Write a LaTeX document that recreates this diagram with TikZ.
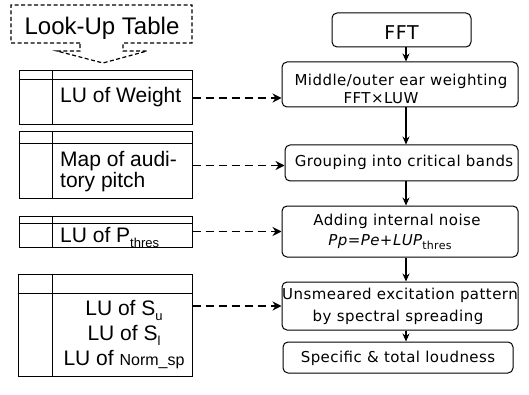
\documentclass[tikz,border=0pt]{standalone}
\usepackage{fontspec}
\setmainfont{Liberation Sans}
\newfontfamily\rfont[LetterSpace=3]{DejaVu Sans}
\usetikzlibrary{arrows.meta,calc}
\begin{document}
\begin{tikzpicture}[x=1pt,y=-1pt,
  tbl/.style={draw,line width=1pt,inner sep=0pt},
  tline/.style={line width=1pt},
  rbox/.style={draw,line width=1pt,rounded corners=5pt,inner sep=0pt},
  ltext/.style={inner sep=0pt,font=\fontsize{21}{21}\selectfont},
  rtext/.style={inner sep=0pt,font=\rfont\fontsize{15}{15}\selectfont},
  varrow/.style={line width=1.1pt,-{Stealth[length=8pt,width=7pt]}},
  darrow/.style={line width=1.5pt,dash pattern=on 8pt off 5pt,-{Stealth[length=9pt,width=9pt]}},
  dashbox/.style={line width=1.2pt,dash pattern=on 4pt off 2.5pt}]
\useasboundingbox (0,0) rectangle (529,395);
\fill[white] (0,0) rectangle (529,395);

% Look-Up Table callout
\draw[dashbox] (80,43) -- (11,43) -- (11,5) -- (192,5) -- (192,43) -- (123,43)
  -- (123,51) -- (147,51) -- (103,63) -- (57,51) -- (80,51) -- cycle;
\node[inner sep=0pt,anchor=base,font=\fontsize{24}{24}\selectfont] (lut) at (102,35) {Look-Up Table};

% Left tables
\node[tbl,minimum width=173pt,minimum height=54pt] (t1) at (105.5,98) {};
\draw[tline] ([xshift=34pt]t1.north west) -- ([xshift=34pt]t1.south west);
\draw[tline] ([yshift=-9pt]t1.north west) -- ([yshift=-9pt]t1.north east);
\node[ltext,anchor=base west] (w1) at (60,103) {LU of Weight};

\node[tbl,minimum width=173pt,minimum height=67pt] (t2) at (105.5,165.5) {};
\draw[tline] ([xshift=34pt]t2.north west) -- ([xshift=34pt]t2.south west);
\draw[tline] ([yshift=-12pt]t2.north west) -- ([yshift=-12pt]t2.north east);
\node[ltext,anchor=base west] (w2a) at (60,167) {Map of audi-};
\node[ltext,anchor=base west] (w2b) at (60,188) {tory pitch};

\node[tbl,minimum width=173pt,minimum height=31pt] (t3) at (105.5,231.5) {};
\draw[tline] ([xshift=34pt]t3.north west) -- ([xshift=34pt]t3.south west);
\draw[tline] ([yshift=-8pt]t3.north west) -- ([yshift=-8pt]t3.north east);
\node[ltext,anchor=base west] (w3) at (60,242) {LU of P\raisebox{-5pt}{\fontsize{13}{13}\selectfont thres}};

\node[tbl,minimum width=174pt,minimum height=102pt] (t4) at (105,325) {};
\draw[tline] ([xshift=35pt]t4.north west) -- ([xshift=35pt]t4.south west);
\draw[tline] ([yshift=-20pt]t4.north west) -- ([yshift=-20pt]t4.north east);
\node[ltext,anchor=base] (w4a) at (124,315) {LU of S\raisebox{-5pt}{\fontsize{13}{13}\selectfont u}};
\node[ltext,anchor=base] (w4b) at (124,340) {LU of S\raisebox{-5pt}{\fontsize{13}{13}\selectfont l}};
\node[ltext,anchor=base] (w4c) at (124,365) {LU of {\fontsize{16}{16}\selectfont Norm\_sp}};

% Right flow boxes
\node[rbox,minimum width=139pt,minimum height=34pt] (fft) at (401.5,30) {};
\node[rtext,anchor=base,font=\rfont\fontsize{19}{19}\selectfont] (fftt) at (401.5,40) {FFT};

\node[rbox,minimum width=236pt,minimum height=45pt] (mid) at (400,84.5) {};
\node[rtext,anchor=base] (midt1) at (401,86) {Middle/outer ear weighting};
\node[rtext,anchor=base] (midt2) at (381,104) {FFT×LUW};

\node[rbox,minimum width=233pt,minimum height=36pt] (grp) at (401.5,163) {};
\node[rtext,anchor=base] (grpt) at (404,167) {Grouping into critical bands};

\node[rbox,minimum width=236pt,minimum height=51pt] (add) at (400,231.5) {};
\node[rtext,anchor=base] (addt1) at (397,225) {Adding internal noise};
\node[rtext,anchor=base] (addt2) at (390,245) {\itshape Pp=Pe+LUP\upshape\raisebox{-4pt}{\fontsize{11}{11}\selectfont thres}};

\node[rbox,minimum width=236pt,minimum height=48pt] (uns) at (400,306) {};
\node[rtext,anchor=base] (unst1) at (400,299) {Unsmeared excitation pattern};
\node[rtext,anchor=base] (unst2) at (398,321) {by spectral spreading};

\node[rbox,minimum width=230pt,minimum height=31pt] (spe) at (398,357.5) {};
\node[rtext,anchor=base] (spet) at (398,362) {Specific \& total loudness};

% vertical arrows
\coordinate (ax) at (406,0);
\draw[varrow] (fft.south -| ax) -- (mid.north -| ax);
\draw[varrow] (mid.south -| ax) -- (grp.north -| ax);
\draw[varrow] (grp.south -| ax) -- (add.north -| ax);
\draw[varrow] (add.south -| ax) -- (uns.north -| ax);
\draw[varrow] (uns.south -| ax) -- (spe.north -| ax);

% dashed arrows
\draw[darrow] (t1.east) -- (mid.west |- t1.east);
\draw[darrow] (t2.east) -- (grp.west |- t2.east);
\draw[darrow] (t3.east) -- (add.west |- t3.east);
\draw[darrow] (t4.east |- uns.west) -- (uns.west);
\end{tikzpicture}
\end{document}
